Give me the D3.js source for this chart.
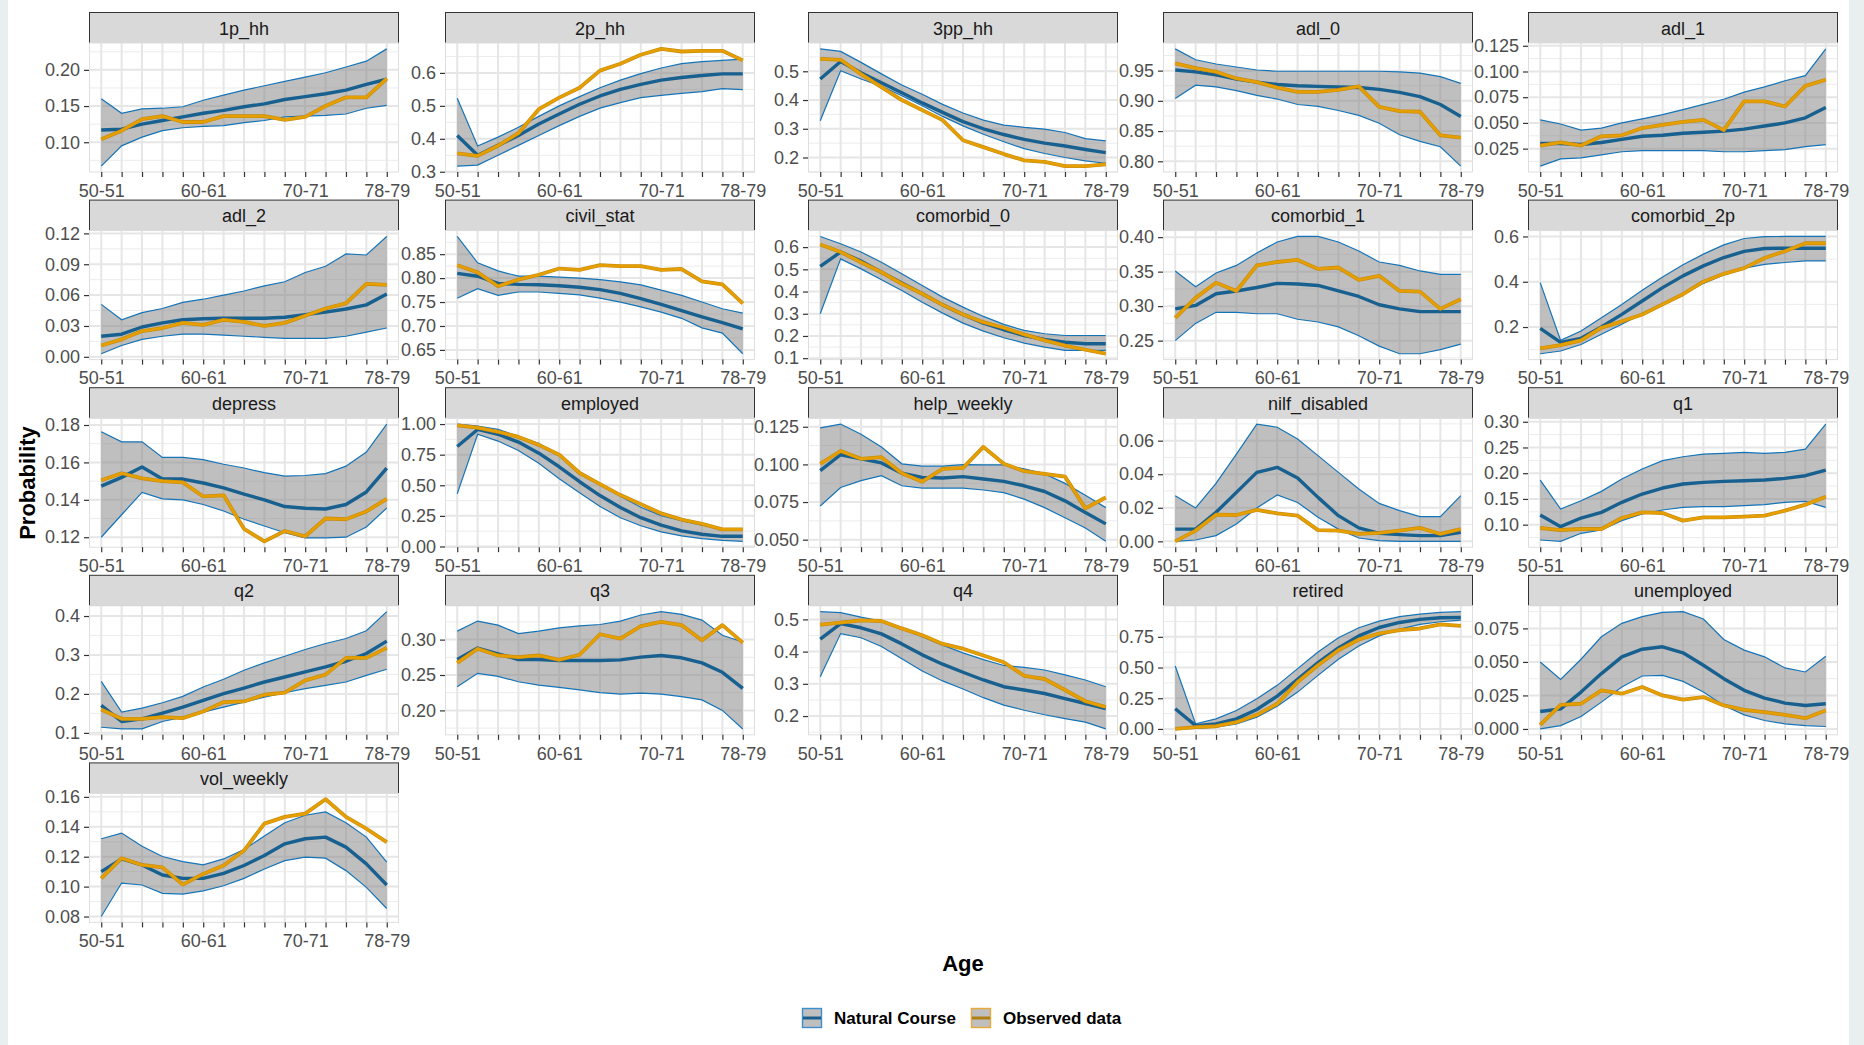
<!DOCTYPE html>
<html>
<head>
<meta charset="utf-8">
<script src="https://cdn.jsdelivr.net/npm/d3@7"></script>
<style>
body { margin: 0; background: #fff; }
text { font-family: "Liberation Sans", Arial, sans-serif; }
</style>
</head>
<body>
<script>
// age groups on the x axis, only some of them get a label
const ages = ["50-51","52-53","54-55","56-57","58-59","60-61","62-63","64-65",
              "66-67","68-69","70-71","72-73","74-75","76-77","78-79"]
const shownAges = ["50-51","60-61","70-71","78-79"]

const panels = ["1p_hh","2p_hh","3pp_hh","adl_0","adl_1",
                "adl_2","civil_stat","comorbid_0","comorbid_1","comorbid_2p",
                "depress","employed","help_weekly","nilf_disabled","q1",
                "q2","q3","q4","retired","unemployed",
                "vol_weekly"]

const yTicks = [
  ["0.10","0.15","0.20"],
  ["0.3","0.4","0.5","0.6"],
  ["0.2","0.3","0.4","0.5"],
  ["0.80","0.85","0.90","0.95"],
  ["0.025","0.050","0.075","0.100","0.125"],
  ["0.00","0.03","0.06","0.09","0.12"],
  ["0.65","0.70","0.75","0.80","0.85"],
  ["0.1","0.2","0.3","0.4","0.5","0.6"],
  ["0.25","0.30","0.35","0.40"],
  ["0.2","0.4","0.6"],
  ["0.12","0.14","0.16","0.18"],
  ["0.00","0.25","0.50","0.75","1.00"],
  ["0.050","0.075","0.100","0.125"],
  ["0.00","0.02","0.04","0.06"],
  ["0.10","0.15","0.20","0.25","0.30"],
  ["0.1","0.2","0.3","0.4"],
  ["0.20","0.25","0.30"],
  ["0.2","0.3","0.4","0.5"],
  ["0.00","0.25","0.50","0.75"],
  ["0.000","0.025","0.050","0.075"],
  ["0.08","0.10","0.12","0.14","0.16"]
]

// natural course: lower bound, mean, upper bound (one row per panel, same order as panels)
const natLower = [
  [0.067,0.095,0.107,0.116,0.120,0.122,0.123,0.127,0.130,0.135,0.136,0.137,0.139,0.147,0.151],
  [0.317,0.320,0.350,0.380,0.410,0.440,0.468,0.493,0.510,0.525,0.532,0.538,0.543,0.552,0.549],
  [0.328,0.502,0.473,0.448,0.415,0.380,0.343,0.310,0.281,0.255,0.231,0.214,0.200,0.188,0.180],
  [0.904,0.926,0.923,0.917,0.909,0.903,0.894,0.891,0.884,0.876,0.863,0.844,0.833,0.824,0.792],
  [0.008,0.015,0.016,0.019,0.022,0.023,0.023,0.023,0.023,0.022,0.022,0.023,0.024,0.027,0.029],
  [0.003,0.011,0.017,0.020,0.022,0.022,0.021,0.020,0.019,0.018,0.018,0.018,0.020,0.024,0.028],
  [0.758,0.778,0.764,0.771,0.771,0.768,0.765,0.758,0.750,0.740,0.729,0.716,0.696,0.685,0.642],
  [0.300,0.547,0.502,0.453,0.405,0.352,0.303,0.258,0.222,0.192,0.168,0.150,0.135,0.135,0.135],
  [0.250,0.275,0.291,0.291,0.289,0.289,0.281,0.277,0.270,0.257,0.242,0.231,0.231,0.237,0.245],
  [0.082,0.094,0.123,0.168,0.212,0.259,0.300,0.345,0.393,0.430,0.460,0.477,0.485,0.492,0.492],
  [0.1200,0.1320,0.1440,0.1405,0.1400,0.1375,0.1340,0.1296,0.1260,0.1224,0.1196,0.1196,0.1200,0.1255,0.1356],
  [0.430,0.917,0.861,0.784,0.679,0.554,0.438,0.327,0.235,0.169,0.119,0.086,0.064,0.050,0.042],
  [0.0724,0.0847,0.0892,0.0925,0.0858,0.0843,0.0843,0.0843,0.0830,0.0813,0.0769,0.0713,0.0646,0.0578,0.0489],
  [0.0000,0.0008,0.0034,0.0103,0.0199,0.0276,0.0232,0.0143,0.0073,0.0020,0.0004,0.0000,0.0000,0.0000,0.0000],
  [0.0702,0.0676,0.0832,0.0896,0.1078,0.1207,0.1285,0.1337,0.1350,0.1350,0.1369,0.1388,0.1434,0.1453,0.1337],
  [0.1145,0.1101,0.1101,0.1292,0.1403,0.1532,0.1661,0.1790,0.1919,0.2031,0.2134,0.2220,0.2306,0.2478,0.2633],
  [0.2333,0.2524,0.2481,0.2405,0.2357,0.2324,0.2290,0.2252,0.2229,0.2243,0.2229,0.2195,0.2148,0.2000,0.1738],
  [0.322,0.456,0.443,0.416,0.378,0.340,0.309,0.284,0.257,0.234,0.218,0.204,0.192,0.181,0.160],
  [0.000,0.005,0.014,0.041,0.095,0.185,0.300,0.436,0.567,0.676,0.758,0.813,0.851,0.873,0.886],
  [0.0000,0.0025,0.0093,0.0200,0.0313,0.0395,0.0400,0.0355,0.0275,0.0175,0.0105,0.0063,0.0038,0.0025,0.0018],
  [0.0800,0.1024,0.1011,0.0955,0.0950,0.0972,0.1006,0.1055,0.1118,0.1174,0.1197,0.1190,0.1107,0.0995,0.0854]
]

const natMean = [
  [0.117,0.118,0.125,0.130,0.135,0.140,0.144,0.149,0.153,0.159,0.163,0.167,0.172,0.180,0.187],
  [0.410,0.350,0.380,0.410,0.445,0.475,0.505,0.530,0.550,0.565,0.578,0.586,0.592,0.597,0.597],
  [0.473,0.534,0.495,0.460,0.425,0.390,0.357,0.325,0.300,0.280,0.263,0.250,0.240,0.228,0.217],
  [0.951,0.948,0.943,0.936,0.931,0.927,0.925,0.924,0.923,0.922,0.919,0.914,0.907,0.894,0.874],
  [0.030,0.030,0.029,0.031,0.034,0.037,0.038,0.040,0.041,0.042,0.044,0.047,0.050,0.055,0.065],
  [0.020,0.022,0.029,0.033,0.036,0.037,0.0375,0.0375,0.0375,0.0385,0.041,0.0435,0.0465,0.0505,0.061],
  [0.810,0.804,0.789,0.787,0.786,0.784,0.781,0.776,0.768,0.757,0.745,0.732,0.719,0.707,0.694],
  [0.513,0.578,0.537,0.487,0.438,0.390,0.340,0.297,0.258,0.228,0.202,0.184,0.172,0.165,0.165],
  [0.296,0.301,0.318,0.322,0.327,0.333,0.332,0.330,0.322,0.314,0.302,0.296,0.292,0.292,0.292],
  [0.194,0.132,0.150,0.200,0.256,0.315,0.374,0.426,0.470,0.507,0.534,0.547,0.548,0.548,0.548],
  [0.1473,0.1520,0.1575,0.1511,0.1511,0.1490,0.1464,0.1430,0.1400,0.1364,0.1355,0.1351,0.1375,0.1442,0.1569],
  [0.817,0.956,0.917,0.853,0.762,0.651,0.529,0.416,0.319,0.235,0.175,0.127,0.100,0.083,0.083],
  [0.0959,0.1064,0.1037,0.1010,0.0941,0.0914,0.0910,0.0919,0.0903,0.0887,0.0858,0.0820,0.0758,0.0680,0.0605],
  [0.0073,0.0073,0.0173,0.0292,0.0411,0.0441,0.0378,0.0262,0.0153,0.0080,0.0048,0.0040,0.0034,0.0034,0.0054],
  [0.1188,0.0961,0.1129,0.1239,0.1434,0.1595,0.1712,0.1790,0.1822,0.1841,0.1854,0.1867,0.1900,0.1951,0.2061],
  [0.1704,0.1291,0.1360,0.1506,0.1661,0.1833,0.2005,0.2151,0.2306,0.2435,0.2564,0.2693,0.2839,0.3037,0.3355],
  [0.2719,0.2881,0.2800,0.2719,0.2719,0.2705,0.2705,0.2705,0.2714,0.2752,0.2776,0.2743,0.2671,0.2538,0.2310],
  [0.439,0.487,0.474,0.455,0.424,0.390,0.361,0.336,0.312,0.291,0.281,0.270,0.254,0.239,0.223],
  [0.164,0.027,0.041,0.082,0.158,0.267,0.404,0.540,0.660,0.758,0.826,0.867,0.892,0.905,0.908],
  [0.0130,0.0150,0.0275,0.0413,0.0538,0.0595,0.0613,0.0568,0.0475,0.0375,0.0288,0.0230,0.0193,0.0175,0.0188],
  [0.1100,0.1185,0.1145,0.1078,0.1055,0.1055,0.1089,0.1141,0.1208,0.1286,0.1320,0.1331,0.1264,0.1152,0.1011]
]

const natUpper = [
  [0.160,0.140,0.146,0.147,0.149,0.158,0.165,0.172,0.178,0.184,0.190,0.196,0.204,0.212,0.229],
  [0.523,0.378,0.405,0.435,0.468,0.500,0.528,0.555,0.578,0.598,0.615,0.628,0.634,0.638,0.642],
  [0.578,0.569,0.531,0.491,0.452,0.420,0.385,0.355,0.330,0.313,0.305,0.299,0.287,0.266,0.258],
  [0.986,0.968,0.961,0.956,0.951,0.949,0.949,0.949,0.949,0.949,0.949,0.948,0.946,0.940,0.929],
  [0.053,0.049,0.043,0.045,0.050,0.054,0.058,0.063,0.068,0.073,0.080,0.085,0.091,0.096,0.122],
  [0.051,0.036,0.043,0.047,0.053,0.056,0.060,0.064,0.069,0.073,0.082,0.088,0.100,0.099,0.117],
  [0.887,0.832,0.815,0.804,0.804,0.802,0.800,0.797,0.792,0.786,0.775,0.764,0.750,0.736,0.727],
  [0.648,0.615,0.578,0.532,0.480,0.427,0.375,0.330,0.288,0.252,0.225,0.210,0.202,0.202,0.202],
  [0.351,0.328,0.348,0.359,0.377,0.393,0.401,0.401,0.393,0.380,0.364,0.359,0.351,0.346,0.346],
  [0.396,0.141,0.182,0.241,0.300,0.362,0.421,0.475,0.522,0.563,0.591,0.599,0.600,0.600,0.600],
  [0.1764,0.1710,0.1710,0.1627,0.1627,0.1615,0.1590,0.1570,0.1545,0.1527,0.1530,0.1540,0.1580,0.1655,0.1805],
  [1.000,0.983,0.956,0.900,0.840,0.750,0.610,0.510,0.410,0.320,0.252,0.210,0.175,0.145,0.140],
  [0.1243,0.1268,0.1200,0.1116,0.1004,0.0988,0.0988,0.0999,0.0997,0.0997,0.0970,0.0937,0.0874,0.0795,0.0713],
  [0.0272,0.0199,0.0346,0.0520,0.0699,0.0680,0.0610,0.0511,0.0411,0.0312,0.0226,0.0183,0.0147,0.0147,0.0272],
  [0.1867,0.1304,0.1466,0.1647,0.1887,0.2081,0.2243,0.2320,0.2372,0.2385,0.2405,0.2385,0.2405,0.2469,0.2955],
  [0.2323,0.1532,0.1636,0.1773,0.1936,0.2177,0.2375,0.2607,0.2796,0.2968,0.3140,0.3295,0.3424,0.3622,0.4112],
  [0.3120,0.3262,0.3205,0.3086,0.3120,0.3167,0.3195,0.3214,0.3262,0.3348,0.3395,0.3357,0.3276,0.3062,0.2967],
  [0.524,0.521,0.507,0.495,0.472,0.446,0.420,0.396,0.375,0.357,0.351,0.343,0.328,0.312,0.291],
  [0.513,0.041,0.082,0.150,0.246,0.355,0.491,0.627,0.742,0.824,0.878,0.914,0.935,0.949,0.955],
  [0.0500,0.0370,0.0520,0.0688,0.0788,0.0838,0.0870,0.0875,0.0820,0.0668,0.0588,0.0538,0.0455,0.0425,0.0543],
  [0.1320,0.1358,0.1270,0.1201,0.1167,0.1145,0.1185,0.1248,0.1338,0.1427,0.1477,0.1499,0.1427,0.1331,0.1163]
]

const observed = [
  [0.104,0.116,0.132,0.136,0.128,0.128,0.136,0.136,0.136,0.131,0.135,0.150,0.162,0.162,0.188],
  [0.356,0.348,0.379,0.417,0.490,0.525,0.555,0.607,0.628,0.655,0.673,0.665,0.667,0.667,0.638],
  [0.543,0.540,0.490,0.445,0.400,0.365,0.330,0.260,0.236,0.212,0.190,0.185,0.170,0.170,0.176],
  [0.962,0.954,0.948,0.937,0.931,0.922,0.915,0.915,0.918,0.924,0.890,0.883,0.882,0.843,0.839],
  [0.028,0.031,0.028,0.037,0.038,0.045,0.048,0.051,0.053,0.043,0.071,0.071,0.066,0.086,0.092],
  [0.011,0.017,0.025,0.028,0.033,0.031,0.036,0.034,0.030,0.033,0.040,0.047,0.052,0.071,0.070],
  [0.827,0.812,0.783,0.797,0.807,0.820,0.817,0.827,0.825,0.825,0.817,0.819,0.793,0.787,0.747],
  [0.612,0.578,0.532,0.487,0.435,0.390,0.340,0.297,0.262,0.237,0.207,0.180,0.157,0.138,0.120],
  [0.283,0.312,0.334,0.322,0.359,0.364,0.367,0.354,0.356,0.338,0.344,0.322,0.321,0.296,0.310],
  [0.106,0.120,0.141,0.197,0.225,0.255,0.300,0.345,0.400,0.435,0.460,0.505,0.535,0.570,0.570],
  [0.1505,0.1542,0.1515,0.1500,0.1493,0.1418,0.1424,0.1245,0.1178,0.1233,0.1205,0.1300,0.1296,0.1338,0.1405],
  [0.990,0.970,0.937,0.895,0.830,0.750,0.600,0.510,0.420,0.346,0.270,0.220,0.185,0.140,0.140],
  [0.1004,0.1089,0.1037,0.1048,0.0941,0.0885,0.0970,0.0977,0.1116,0.1004,0.0955,0.0937,0.0919,0.0708,0.0780],
  [0.0000,0.0064,0.0159,0.0157,0.0187,0.0167,0.0153,0.0067,0.0064,0.0044,0.0050,0.0064,0.0080,0.0044,0.0073],
  [0.0935,0.0896,0.0916,0.0916,0.1129,0.1239,0.1227,0.1078,0.1142,0.1142,0.1155,0.1175,0.1272,0.1388,0.1544],
  [0.1601,0.1360,0.1360,0.1403,0.1378,0.1550,0.1790,0.1807,0.1979,0.2031,0.2349,0.2495,0.2925,0.2925,0.3183],
  [0.2671,0.2871,0.2776,0.2752,0.2776,0.2714,0.2786,0.3076,0.3014,0.3190,0.3252,0.3205,0.2990,0.3205,0.2957],
  [0.484,0.490,0.497,0.495,0.472,0.451,0.424,0.409,0.388,0.367,0.325,0.315,0.281,0.246,0.228],
  [0.000,0.014,0.022,0.055,0.115,0.205,0.382,0.518,0.641,0.728,0.777,0.805,0.818,0.851,0.840],
  [0.0030,0.0180,0.0188,0.0288,0.0263,0.0313,0.0250,0.0218,0.0238,0.0175,0.0143,0.0125,0.0105,0.0080,0.0138],
  [0.1055,0.1190,0.1145,0.1129,0.1013,0.1085,0.1141,0.1241,0.1421,0.1466,0.1488,0.1584,0.1466,0.1387,0.1297]
]

const width = 1864, height = 1045
const colLeft = [89, 445, 808, 1163, 1528]
const panelW = 310, stripH = 31, bodyH = 129, rowStep = 187.6, top0 = 12

const blueEdge = "#1574b8", blueMean = "#17608f", orange = "#E69F00"

var svg = d3.select("body").append("svg")
    .attr("width", width)
    .attr("height", height)

// light side bands of the original screenshot
svg.append("rect").attr("x", 0).attr("y", 0).attr("width", 8).attr("height", height).attr("fill", "#e9eeee")
svg.append("rect").attr("x", 1849).attr("y", 0).attr("width", 15).attr("height", height).attr("fill", "#e9eeee")

var x = d3.scalePoint().domain(ages).range([0, panelW]).padding(0.6)

panels.forEach(function (name, p) {
    var col = p % 5, row = Math.floor(p / 5)
    var g = svg.append("g")
        .attr("transform", "translate(" + colLeft[col] + "," + (top0 + row * rowStep) + ")")

    // strip
    g.append("rect")
        .attr("x", 0.5).attr("y", 0.5)
        .attr("width", panelW - 1).attr("height", stripH)
        .attr("fill", "#d9d9d9").attr("stroke", "#333").attr("stroke-width", 1)
    g.append("text")
        .attr("x", panelW / 2).attr("y", stripH / 2 + 1)
        .attr("text-anchor", "middle").attr("dominant-baseline", "central")
        .attr("font-size", 18).attr("fill", "#1a1a1a")
        .text(name)

    var body = g.append("g").attr("transform", "translate(0," + stripH + ")")

    var all = natLower[p].concat(natUpper[p], natMean[p], observed[p])
    var ext = d3.extent(all)
    var pad = (ext[1] - ext[0]) * 0.05
    var y = d3.scaleLinear().domain([ext[0] - pad, ext[1] + pad]).range([bodyH, 0])

    var ticks = yTicks[p].map(Number)
    var step = ticks[1] - ticks[0]
    var minor = d3.range(ticks.length + 1)
        .map(function (i) { return ticks[0] + (i - 0.5) * step })
        .filter(function (v) { return v >= y.domain()[0] && v <= y.domain()[1] })

    body.append("rect").attr("width", panelW).attr("height", bodyH).attr("fill", "#fff")

    // grid
    body.selectAll(".minor").data(minor).enter().append("line")
        .attr("x1", 0).attr("x2", panelW)
        .attr("y1", function (d) { return y(d) }).attr("y2", function (d) { return y(d) })
        .attr("stroke", "#ececec").attr("stroke-width", 1)
    body.selectAll(".major").data(ticks).enter().append("line")
        .attr("x1", 0).attr("x2", panelW)
        .attr("y1", function (d) { return y(d) }).attr("y2", function (d) { return y(d) })
        .attr("stroke", "#e6e6e6").attr("stroke-width", 2)
    body.selectAll(".vgrid").data(ages).enter().append("line")
        .attr("x1", function (d) { return x(d) }).attr("x2", function (d) { return x(d) })
        .attr("y1", 0).attr("y2", bodyH)
        .attr("stroke", "#e6e6e6").attr("stroke-width", 2)

    var idx = d3.range(ages.length)

    // confidence band
    var band = d3.area()
        .x(function (i) { return x(ages[i]) })
        .y0(function (i) { return y(natLower[p][i]) })
        .y1(function (i) { return y(natUpper[p][i]) })
    body.append("path").attr("d", band(idx))
        .attr("fill", "#7f7f7f").attr("fill-opacity", 0.5)

    var lineOf = function (arr) {
        return d3.line()
            .x(function (i) { return x(ages[i]) })
            .y(function (i) { return y(arr[i]) })(idx)
    }

    body.append("path").attr("d", lineOf(natLower[p]))
        .attr("fill", "none").attr("stroke", blueEdge).attr("stroke-width", 1.2)
    body.append("path").attr("d", lineOf(natUpper[p]))
        .attr("fill", "none").attr("stroke", blueEdge).attr("stroke-width", 1.2)
    body.append("path").attr("d", lineOf(natMean[p]))
        .attr("fill", "none").attr("stroke", blueMean).attr("stroke-width", 3.4)
        .attr("stroke-linejoin", "round")
    body.append("path").attr("d", lineOf(observed[p]))
        .attr("fill", "none").attr("stroke", "#c68b10").attr("stroke-width", 3.8)
        .attr("stroke-linejoin", "round")
    body.append("path").attr("d", lineOf(observed[p]))
        .attr("fill", "none").attr("stroke", orange).attr("stroke-width", 2.6)
        .attr("stroke-linejoin", "round")

    body.append("rect")
        .attr("x", 0.5).attr("y", 0).attr("width", panelW - 1).attr("height", bodyH)
        .attr("fill", "none").attr("stroke", "#dedede").attr("stroke-width", 1)

    // axes
    var yAxis = d3.axisLeft(y)
        .tickValues(ticks)
        .tickFormat(function (d, i) { return yTicks[p][i] })
        .tickSize(5)
        .tickPadding(4)
    var ya = body.append("g").call(yAxis)
    ya.select(".domain").remove()

    var xAxis = d3.axisBottom(x)
        .tickSize(5)
        .tickPadding(7)
        .tickFormat(function (d) { return shownAges.indexOf(d) >= 0 ? d : "" })
    var xa = body.append("g").attr("transform", "translate(0," + bodyH + ")").call(xAxis)
    xa.select(".domain").remove()

    g.selectAll(".tick line").attr("stroke", "#333").attr("stroke-width", 1.2)
    g.selectAll(".tick text")
        .attr("font-size", 18)
        .attr("fill", "#4d4d4d")
        .style("font-family", "'Liberation Sans', Arial, sans-serif")
})

// axis titles
svg.append("text")
    .attr("transform", "translate(27,483) rotate(-90)")
    .attr("text-anchor", "middle").attr("dominant-baseline", "central")
    .attr("font-size", 22).attr("font-weight", "bold").attr("fill", "#000")
    .text("Probability")

svg.append("text")
    .attr("x", 963).attr("y", 963)
    .attr("text-anchor", "middle").attr("dominant-baseline", "central")
    .attr("font-size", 22).attr("font-weight", "bold").attr("fill", "#000")
    .text("Age")

// legend
var legendItems = [
    { label: "Natural Course", x: 802, edge: "#3c8fcb", line: "#1a5e8e" },
    { label: "Observed data", x: 971, edge: "#e8a93a", line: "#b07f12" }
]
var lg = svg.selectAll(".legend").data(legendItems).enter().append("g")
    .attr("transform", function (d) { return "translate(" + d.x + ",1008)" })
lg.append("rect")
    .attr("x", 0.5).attr("y", 0.5).attr("width", 19).attr("height", 19)
    .attr("fill", "#bfbfbf")
    .attr("stroke", function (d) { return d.edge }).attr("stroke-width", 1.4)
lg.append("line")
    .attr("x1", 1).attr("x2", 19).attr("y1", 10).attr("y2", 10)
    .attr("stroke", function (d) { return d.line }).attr("stroke-width", 3)
lg.append("text")
    .attr("x", 32).attr("y", 10)
    .attr("dominant-baseline", "central")
    .attr("font-size", 17).attr("font-weight", "bold").attr("fill", "#000")
    .text(function (d) { return d.label })
</script>
</body>
</html>
